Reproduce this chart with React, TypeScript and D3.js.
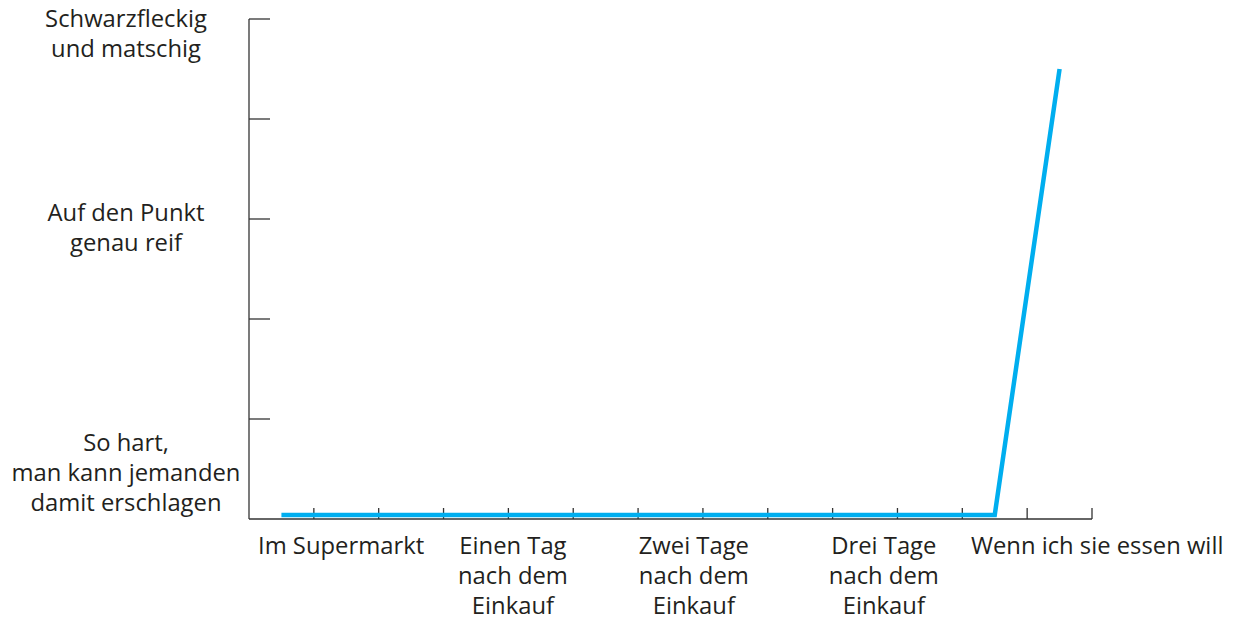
import { useEffect, useRef } from 'react';
import * as d3 from 'd3';

// data: x in tick units (0..13), y in ripeness units (0..5)
const lineX = [0.5, 11.5, 12.5];
const lineY = [0.04, 0.04, 4.5];

const xTicks = d3.range(1, 14);
const yTicks = [1, 2, 3, 4, 5];

const xLabels = [
  ['Im Supermarkt'],
  ['Einen Tag', 'nach dem', 'Einkauf'],
  ['Zwei Tage', 'nach dem', 'Einkauf'],
  ['Drei Tage', 'nach dem', 'Einkauf'],
  ['Wenn ich sie essen will'],
];
const xLabelPos = [1.42, 4.07, 6.86, 9.79, 13.08];

const yLabels = [
  ['So hart,', 'man kann jemanden', 'damit erschlagen'],
  ['Auf den Punkt', 'genau reif'],
  ['Schwarzfleckig', 'und matschig'],
];
// value at the first line's baseline
const yLabelPos = [0.68, 2.985, 4.92];

function App() {
  const svgRef = useRef(null);

  useEffect(() => {
    const width = 1240;
    const height = 623;
    const left = 249;
    const right = 1092;
    const top = 19;
    const bottom = 519;
    const font = '"Open Sans", sans-serif';
    const fontSize = 23.8;
    const lh = 30;
    const labelX = 126;

    const svg = d3.select(svgRef.current);
    svg.selectAll('*').remove();
    svg.attr('width', width).attr('height', height)
      .style('position', 'absolute').style('left', 0).style('top', 0);

    const x = d3.scaleLinear().domain([0, 13]).range([left, right]);
    const y = d3.scaleLinear().domain([0, 5]).range([bottom, top]);

    const axisColor = '#333';

    // axes
    svg.append('line')
      .attr('x1', x(0)).attr('x2', x(0))
      .attr('y1', y(5)).attr('y2', y(0))
      .attr('stroke', axisColor).attr('stroke-width', 1.3);
    svg.append('line')
      .attr('x1', x(0)).attr('x2', x(13))
      .attr('y1', y(0)).attr('y2', y(0))
      .attr('stroke', axisColor).attr('stroke-width', 1.3);

    svg.selectAll('.ytick')
      .data(yTicks)
      .enter()
      .append('line')
      .attr('x1', x(0)).attr('x2', x(0) + 21)
      .attr('y1', (d) => y(d)).attr('y2', (d) => y(d))
      .attr('stroke', axisColor).attr('stroke-width', 1.3);

    svg.selectAll('.xtick')
      .data(xTicks)
      .enter()
      .append('line')
      .attr('x1', (d) => x(d)).attr('x2', (d) => x(d))
      .attr('y1', y(0)).attr('y2', y(0) - 11)
      .attr('stroke', axisColor).attr('stroke-width', 1.3);

    // line
    const line = d3.line()
      .x((d) => x(d[0]))
      .y((d) => y(d[1]));
    svg.append('path')
      .datum(lineX.map((v, i) => [v, lineY[i]]))
      .attr('d', line)
      .attr('fill', 'none')
      .attr('stroke', '#00aeef')
      .attr('stroke-width', 4.5);

    // x labels
    xLabels.forEach((lines, i) => {
      const t = svg.append('text')
        .attr('text-anchor', 'middle')
        .attr('font-family', font)
        .attr('font-size', fontSize)
        .attr('fill', '#231f20');
      lines.forEach((s, j) => {
        t.append('tspan')
          .attr('x', x(xLabelPos[i]))
          .attr('y', 554 + j * lh)
          .text(s);
      });
    });

    // y labels
    yLabels.forEach((lines, i) => {
      const t = svg.append('text')
        .attr('text-anchor', 'middle')
        .attr('font-family', font)
        .attr('font-size', fontSize)
        .attr('fill', '#231f20');
      lines.forEach((s, j) => {
        t.append('tspan')
          .attr('x', labelX)
          .attr('y', y(yLabelPos[i]) + j * lh)
          .text(s);
      });
    });
  }, []);

  return <svg ref={svgRef}></svg>;
}

export default App;
